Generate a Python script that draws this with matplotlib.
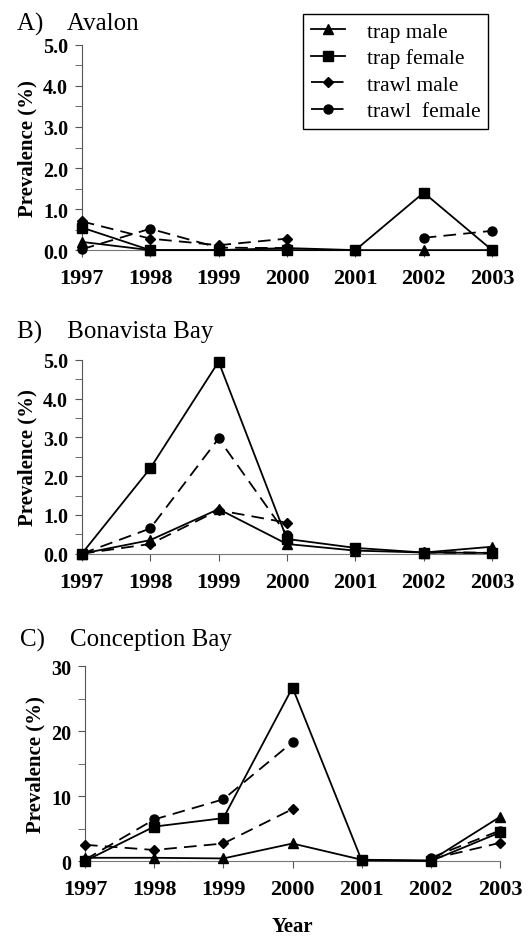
import numpy as np
import matplotlib
matplotlib.use('Agg')
import matplotlib.pyplot as plt

plt.rcParams['font.family'] = ['Liberation Serif', 'DejaVu Serif']

# Anni di campionamento
years = [1997, 1998, 1999, 2000, 2001, 2002, 2003]
nan = np.nan

# A) Avalon
avalon_trap_male = [0.2, 0.0, 0.0, 0.05, 0.0, 0.0, 0.0]
avalon_trap_female = [0.55, 0.0, 0.0, 0.0, 0.0, 1.4, 0.0]
avalon_trawl_male = [0.7, 0.28, 0.12, 0.28, nan, nan, nan]
avalon_trawl_female = [0.02, 0.52, 0.06, 0.05, nan, 0.3, 0.47]

# B) Bonavista Bay
bona_trap_male = [0.0, 0.35, 1.15, 0.25, 0.08, 0.03, 0.18]
bona_trap_female = [0.0, 2.2, 4.95, 0.38, 0.15, 0.03, 0.02]
bona_trawl_male = [0.0, 0.25, 1.12, 0.8, nan, 0.05, 0.02]
bona_trawl_female = [0.0, 0.65, 2.97, 0.48, nan, 0.03, 0.02]

# C) Conception Bay
conc_trap_male = [0.5, 0.5, 0.4, 2.7, 0.2, 0.1, 6.8]
conc_trap_female = [0.0, 5.3, 6.6, 26.7, 0.1, 0.0, 4.4]
conc_trawl_male = [2.5, 1.7, 2.7, 8.0, nan, 0.3, 2.8]
conc_trawl_female = [0.2, 6.4, 9.5, 18.3, nan, 0.5, 4.7]

series_labels = ['trap male', 'trap female', 'trawl male', 'trawl  female']
markers = ['^', 's', 'D', 'o']
msizes = [7, 6.5, 5, 6.5]
styles = ['-', '-', (0, (7, 4)), (0, (7, 4))]

panels = [
    ('A)    Avalon', [avalon_trap_male, avalon_trap_female, avalon_trawl_male, avalon_trawl_female],
     (5.0, 1.0, 0.5, '%.1f'), [0.155, 0.732, 0.777, 0.219], 11),
    ('B)    Bonavista Bay', [bona_trap_male, bona_trap_female, bona_trawl_male, bona_trawl_female],
     (5.0, 1.0, 0.5, '%.1f'), [0.155, 0.408, 0.777, 0.207], 16),
    ('C)    Conception Bay', [conc_trap_male, conc_trap_female, conc_trawl_male, conc_trawl_female],
     (30, 10, 5, '%d'), [0.161, 0.080, 0.786, 0.208], 15),
]

fig = plt.figure(figsize=(5.28, 9.37), dpi=100)

handles = []
for title, data, (ymax, major, minor, fmt), rect, tpad in panels:
    ax = fig.add_axes(rect)
    for vals, lab, m, ms, ls in zip(data, series_labels, markers, msizes, styles):
        h, = ax.plot(years, vals, color='black', linestyle=ls, linewidth=1.3,
                     marker=m, markersize=ms, label=lab, clip_on=False, zorder=3)
        if title.startswith('A'):
            handles.append(h)
    ax.set_xlim(1997, 2003)
    ax.set_ylim(0, ymax)
    ax.set_xticks(years)
    ax.set_xticklabels([str(y) for y in years], fontsize=16, fontweight='bold')
    yt = np.arange(0, ymax + 0.001, major)
    ax.set_yticks(yt)
    ax.set_yticklabels([fmt % v for v in yt], fontsize=14.5, fontweight='bold')
    ax.set_yticks(np.arange(0, ymax + 0.001, minor), minor=True)
    ax.tick_params(axis='x', direction='out', length=5, pad=8, color='#555555')
    ax.tick_params(axis='y', which='both', direction='out', length=5, pad=5, color='#555555')
    for s in ['top', 'right']:
        ax.spines[s].set_visible(False)
    ax.spines['left'].set_color('#555555')
    ax.spines['bottom'].set_color('#777777')
    ax.set_ylabel('Prevalence (%)', fontsize=15, fontweight='bold', labelpad=4)
    x_off = -65 / (rect[2] * 528)
    ax.set_title(title, loc='left', fontsize=18, x=x_off, pad=tpad)
    if title.startswith('C'):
        ax.set_xlabel('Year', fontsize=15, fontweight='bold', labelpad=12)

fig.legend(handles=handles, loc='upper right', bbox_to_anchor=(0.924, 0.984),
           fontsize=15.5, frameon=True, fancybox=False, edgecolor='black',
           handlelength=1.6, borderpad=0.35, labelspacing=0.3, handletextpad=1.0,
           borderaxespad=0, framealpha=1)

fig.savefig('out.png', dpi=100)
